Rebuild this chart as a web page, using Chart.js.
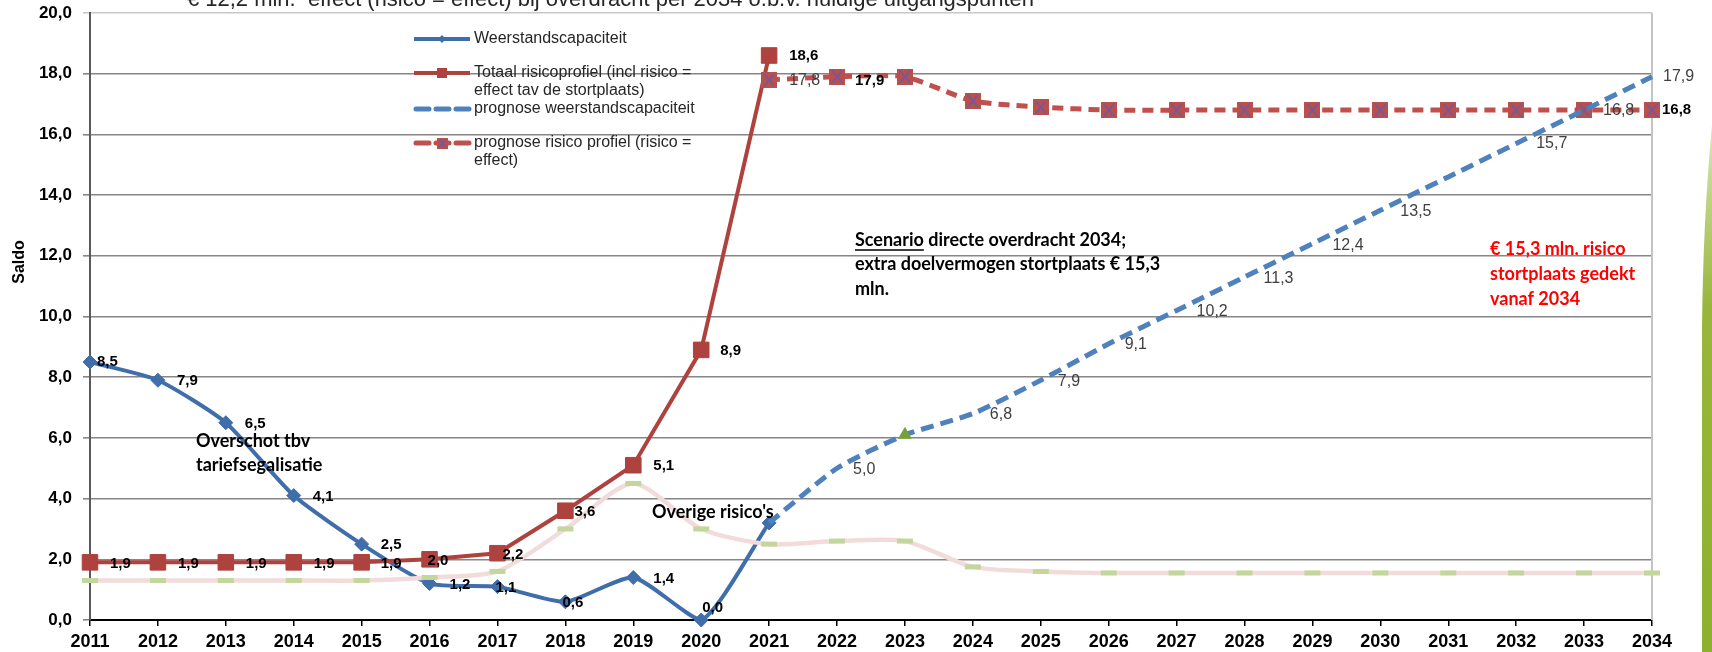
<!DOCTYPE html>
<html lang="nl">
<head>
<meta charset="UTF-8">
<title>Saldo weerstandscapaciteit en risicoprofiel</title>
<script src="https://cdn.jsdelivr.net/npm/chart.js@4.4.1/dist/chart.umd.min.js"></script>
<style>
  html, body { margin: 0; padding: 0; background: #fff; }
  #wrap { width: 1712px; height: 652px; }
</style>
</head>
<body>
<div id="wrap"><canvas id="saldoChart" width="1712" height="652"></canvas></div>
<script>
// jaren op de x-as
var years = ['2011','2012','2013','2014','2015','2016','2017','2018','2019','2020','2021','2022',
             '2023','2024','2025','2026','2027','2028','2029','2030','2031','2032','2033','2034'];

// waarden (mln.)
var weerstandscapaciteit = [8.5, 7.9, 6.5, 4.1, 2.5, 1.2, 1.1, 0.6, 1.4, 0.0, 3.2,
                            null, null, null, null, null, null, null, null, null, null, null, null, null];
var totaalRisicoprofiel  = [1.9, 1.9, 1.9, 1.9, 1.9, 2.0, 2.2, 3.6, 5.1, 8.9, 18.6,
                            null, null, null, null, null, null, null, null, null, null, null, null, null];
var prognoseWeerstand    = [null, null, null, null, null, null, null, null, null, null,
                            3.2, 5.0, 6.1, 6.8, 7.9, 9.1, 10.2, 11.3, 12.4, 13.5, 14.6, 15.7, 16.8, 17.9];
var prognoseRisico       = [null, null, null, null, null, null, null, null, null, null,
                            17.8, 17.9, 17.9, 17.1, 16.9, 16.8, 16.8, 16.8, 16.8, 16.8, 16.8, 16.8, 16.8, 16.8];
var overigeRisicos       = [1.3, 1.3, 1.3, 1.3, 1.3, 1.4, 1.6, 3.0, 4.5, 3.0, 2.5, 2.6,
                            2.6, 1.75, 1.6, 1.55, 1.55, 1.55, 1.55, 1.55, 1.55, 1.55, 1.55, 1.55];
var yTicks = [0, 2, 4, 6, 8, 10, 12, 14, 16, 18, 20];

var BLUE = '#3F6EAA', RED = '#AE423E', BLUE_D = '#4F81BD', RED_D = '#C0504D';
var PINK = '#F2DCDB', GREEN_D = '#C3D69B', TRI = '#77A03A';
var SANS = "'Liberation Sans', Arial, sans-serif";
var NARROW = "'Liberation Sans Narrow', 'Liberation Sans', Arial, sans-serif";
var CAL = "Lato, 'Open Sans', sans-serif";
var PLOT_TOP = 12;

function fmt(v) { return v.toFixed(1).replace('.', ','); }

// marker: rood vierkant met paars kruisje
function squareCross(size) {
    var c = document.createElement('canvas');
    c.width = size; c.height = size;
    var g = c.getContext('2d');
    g.fillStyle = '#B9504B';
    g.fillRect(0, 0, size, size);
    g.strokeStyle = '#6A5AAE';
    g.lineWidth = 1.5;
    g.beginPath();
    g.moveTo(3, 2); g.lineTo(size - 3, size - 2);
    g.moveTo(size - 3, 2); g.lineTo(3, size - 2);
    g.stroke();
    return c;
}
var crossMarker = squareCross(16);
var crossMarkerSmall = squareCross(11);

// labels, teksten, legenda en kader
var decorPlugin = {
    id: 'decor',
    beforeDatasetsDraw: function (chart) {
        var ctx = chart.ctx, a = chart.chartArea;
        ctx.save();
        ctx.strokeStyle = '#C4C4C4';
        ctx.lineWidth = 2;
        ctx.beginPath();
        ctx.moveTo(a.right, a.top);
        ctx.lineTo(a.right, a.bottom);
        ctx.stroke();
        ctx.restore();
    },
    afterDatasetsDraw: function (chart) {
        var ctx = chart.ctx;
        ctx.save();
        // waardelabels
        chart.data.datasets.forEach(function (ds, di) {
            if (!ds.labelAt) return;
            var meta = chart.getDatasetMeta(di);
            Object.keys(ds.labelAt).forEach(function (k) {
                var i = +k, spec = ds.labelAt[k], v = ds.data[i], pt = meta.data[i];
                if (v == null || !pt) return;
                ctx.font = spec[2] ? 'bold 15px ' + SANS : '16px ' + NARROW;
                ctx.fillStyle = spec[2] ? '#000' : '#404040';
                ctx.textAlign = 'left';
                ctx.textBaseline = 'middle';
                ctx.fillText(fmt(v), pt.x + spec[0], pt.y + spec[1]);
            });
        });

        // legenda
        var lx = 414, lw = 56, tx = 474;
        ctx.font = '16px ' + SANS;
        ctx.fillStyle = '#262626';
        ctx.textAlign = 'left';
        ctx.textBaseline = 'middle';
        ctx.lineCap = 'butt';

        ctx.strokeStyle = BLUE; ctx.lineWidth = 4; ctx.setLineDash([]);
        ctx.beginPath(); ctx.moveTo(lx, 39); ctx.lineTo(lx + lw, 39); ctx.stroke();
        ctx.fillStyle = BLUE;
        ctx.beginPath(); ctx.moveTo(442, 35); ctx.lineTo(446, 39); ctx.lineTo(442, 43); ctx.lineTo(438, 39); ctx.fill();
        ctx.fillStyle = '#262626';
        ctx.fillText('Weerstandscapaciteit', tx, 39);

        ctx.strokeStyle = RED; ctx.lineWidth = 4;
        ctx.beginPath(); ctx.moveTo(lx, 73); ctx.lineTo(lx + lw, 73); ctx.stroke();
        ctx.fillStyle = RED; ctx.fillRect(437, 68, 10, 10);
        ctx.fillStyle = '#262626';
        ctx.fillText('Totaal risicoprofiel (incl risico =', tx, 73);
        ctx.fillText('effect tav de stortplaats)', tx, 91);

        ctx.strokeStyle = BLUE_D; ctx.lineWidth = 5; ctx.setLineDash([13, 7]); ctx.lineCap = 'round';
        ctx.beginPath(); ctx.moveTo(lx + 2, 109); ctx.lineTo(lx + lw, 109); ctx.stroke();
        ctx.fillText('prognose weerstandscapaciteit', tx, 109);

        ctx.strokeStyle = RED_D; ctx.setLineDash([13, 7]);
        ctx.beginPath(); ctx.moveTo(lx + 2, 143); ctx.lineTo(lx + lw, 143); ctx.stroke();
        ctx.setLineDash([]);
        ctx.drawImage(crossMarkerSmall, 437, 138);
        ctx.fillText('prognose risico profiel (risico =', tx, 143);
        ctx.fillText('effect)', tx, 161);
        ctx.restore();
    },
    afterDraw: function (chart) {
        var ctx = chart.ctx;
        ctx.save();
        ctx.textAlign = 'left';

        // afgesneden titel bovenaan
        ctx.font = '22px ' + SANS;
        ctx.fillStyle = '#262626';
        ctx.textBaseline = 'alphabetic';
        ctx.fillText('€ 12,2 mln.  effect (risico = effect) bij overdracht per 2034 o.b.v. huidige uitgangspunten', 187, 6, 847);

        // as-titel
        ctx.save();
        ctx.translate(20, 262);
        ctx.rotate(-Math.PI / 2);
        ctx.textAlign = 'center';
        ctx.textBaseline = 'middle';
        ctx.font = 'bold 16px ' + SANS;
        ctx.fillStyle = '#000';
        ctx.fillText('Saldo', 0, 0);
        ctx.restore();

        ctx.textBaseline = 'middle';
        ctx.font = 'bold 18px ' + CAL;
        ctx.fillStyle = '#000';
        ctx.fillText('Overschot tbv', 196, 441, 117);
        ctx.fillText('tariefsegalisatie', 196, 465, 133);
        ctx.fillText("Overige risico's", 652, 512, 126);

        var w1 = ctx.measureText('Scenario directe overdracht 2034;').width;
        var k = Math.min(1, 282 / w1);
        ctx.fillText('Scenario directe overdracht 2034;', 855, 240, 282);
        ctx.fillText('extra doelvermogen stortplaats € 15,3', 855, 264, 324);
        ctx.fillText('mln.', 855, 289);
        var uw = ctx.measureText('Scenario').width * k;
        ctx.strokeStyle = '#000'; ctx.lineWidth = 1.3;
        ctx.beginPath(); ctx.moveTo(855, 250); ctx.lineTo(855 + uw, 250); ctx.stroke();

        ctx.fillStyle = '#FF0000';
        ctx.fillText('€ 15,3 mln. risico', 1490, 249, 142);
        ctx.fillText('stortplaats gedekt', 1490, 274, 155);
        ctx.fillText('vanaf 2034', 1490, 299, 93);

        // groen blad rechts
        var grad = ctx.createLinearGradient(0, 120, 0, 652);
        grad.addColorStop(0, '#DDE8B8');
        grad.addColorStop(0.35, '#98B63C');
        grad.addColorStop(1, '#8DB02E');
        ctx.fillStyle = grad;
        ctx.beginPath();
        ctx.moveTo(1712, 125);
        ctx.quadraticCurveTo(1703, 220, 1702, 330);
        ctx.lineTo(1702, 652);
        ctx.lineTo(1712, 652);
        ctx.closePath();
        ctx.fill();
        ctx.restore();
    }
};

var chart = new Chart(document.getElementById('saldoChart'), {
    type: 'line',
    data: {
        labels: years,
        datasets: [
            {
                label: "Overige risico's",
                data: overigeRisicos,
                borderColor: PINK,
                borderWidth: 4.5,
                tension: 0.25,
                pointStyle: 'line',
                pointRadius: 8,
                pointBorderWidth: 5,
                pointBorderColor: GREEN_D,
                pointBackgroundColor: GREEN_D,
                clip: false
            },
            {
                label: 'prognose weerstandscapaciteit',
                data: prognoseWeerstand,
                borderColor: BLUE_D,
                borderWidth: 5,
                borderDash: [13, 7],
                tension: 0.2,
                pointStyle: 'triangle',
                pointRadius: function (c) { return c.dataIndex === 12 ? 8 : 0; },
                pointBackgroundColor: TRI,
                pointBorderColor: TRI,
                pointBorderWidth: 0,
                clip: false,
                labelAt: {11: [16, 1, 0], 13: [17, 1, 0], 14: [17, 1, 0], 15: [16, 1, 0], 16: [20, 1, 0],
                          17: [19, 2, 0], 18: [20, 2, 0], 19: [20, 1, 0], 21: [20, 0, 0], 22: [19, 0, 0], 23: [11, 0, 0]}
            },
            {
                label: 'prognose risico profiel (risico = effect)',
                data: prognoseRisico,
                borderColor: RED_D,
                borderWidth: 5,
                borderDash: [11, 7],
                tension: 0.2,
                pointStyle: crossMarker,
                pointRadius: 8,
                clip: false,
                labelAt: {10: [20, 1, 0], 11: [18, 4, 1], 23: [10, 0, 1]}
            },
            {
                label: 'Totaal risicoprofiel (incl risico = effect tav de stortplaats)',
                data: totaalRisicoprofiel,
                borderColor: RED,
                borderWidth: 4,
                tension: 0,
                pointStyle: 'rect',
                pointRadius: 11,
                pointBackgroundColor: RED,
                pointBorderColor: RED,
                pointBorderWidth: 1,
                clip: false,
                labelAt: {0: [20, 2, 1], 1: [20, 2, 1], 2: [20, 2, 1], 3: [20, 2, 1], 4: [19, 2, 1], 5: [-2, 2, 1],
                          6: [5, 2, 1], 7: [9, 1, 1], 8: [20, 1, 1], 9: [19, 1, 1], 10: [20, 0, 1]}
            },
            {
                label: 'Weerstandscapaciteit',
                data: weerstandscapaciteit,
                borderColor: BLUE,
                borderWidth: 4,
                tension: 0.2,
                pointStyle: 'rectRot',
                pointRadius: 7,
                pointBackgroundColor: BLUE,
                pointBorderColor: BLUE,
                pointBorderWidth: 1,
                clip: false,
                labelAt: {0: [7, 0, 1], 1: [19, 1, 1], 2: [19, 1, 1], 3: [19, 1, 1], 4: [19, 1, 1], 5: [20, 1, 1],
                          6: [-2, 1, 1], 7: [-3, 1, 1], 8: [20, 1, 1], 9: [1, -12, 1]}
            }
        ]
    },
    options: {
        responsive: false,
        animation: false,
        devicePixelRatio: 1,
        layout: { padding: { top: PLOT_TOP, right: 60, left: 0, bottom: 0 } },
        plugins: { legend: { display: false }, tooltip: { enabled: false } },
        elements: { point: { hitRadius: 0 } },
        scales: {
            x: {
                offset: false,
                grid: { drawOnChartArea: false, drawTicks: true, tickLength: 6, color: '#000', lineWidth: 1.5 },
                border: { color: '#000', width: 2 },
                ticks: { font: { family: SANS, size: 18, weight: 'bold' }, color: '#000', padding: 5,
                         maxRotation: 0, autoSkip: false },
                afterFit: function (s) { s.height = 32; s.paddingLeft = 0; s.paddingRight = 0; }
            },
            y: {
                min: yTicks[0],
                max: yTicks[yTicks.length - 1],
                afterBuildTicks: function (s) { s.ticks = yTicks.map(function (v) { return { value: v }; }); },
                ticks: { callback: function (v) { return fmt(v); }, font: { family: SANS, size: 17, weight: 'bold' },
                         color: '#000', padding: 11 },
                grid: { color: function (c) { return c.tick && c.tick.value === 20 ? '#C8C8C8' : '#868686'; },
                        lineWidth: 1.6, tickLength: 7 },
                border: { color: '#5A5A5A', width: 2 },
                afterFit: function (s) { s.width = 90; s.paddingTop = 0; s.paddingBottom = 0; }
            }
        }
    },
    plugins: [decorPlugin]
});

// plotgebied bovenaan op dezelfde hoogte als het origineel zetten
var extraTop = chart.chartArea.top - PLOT_TOP;
if (Math.abs(extraTop) > 0.5) {
    chart.options.layout.padding.top = Math.max(0, PLOT_TOP - extraTop);
    chart.update();
}
</script>
</body>
</html>
